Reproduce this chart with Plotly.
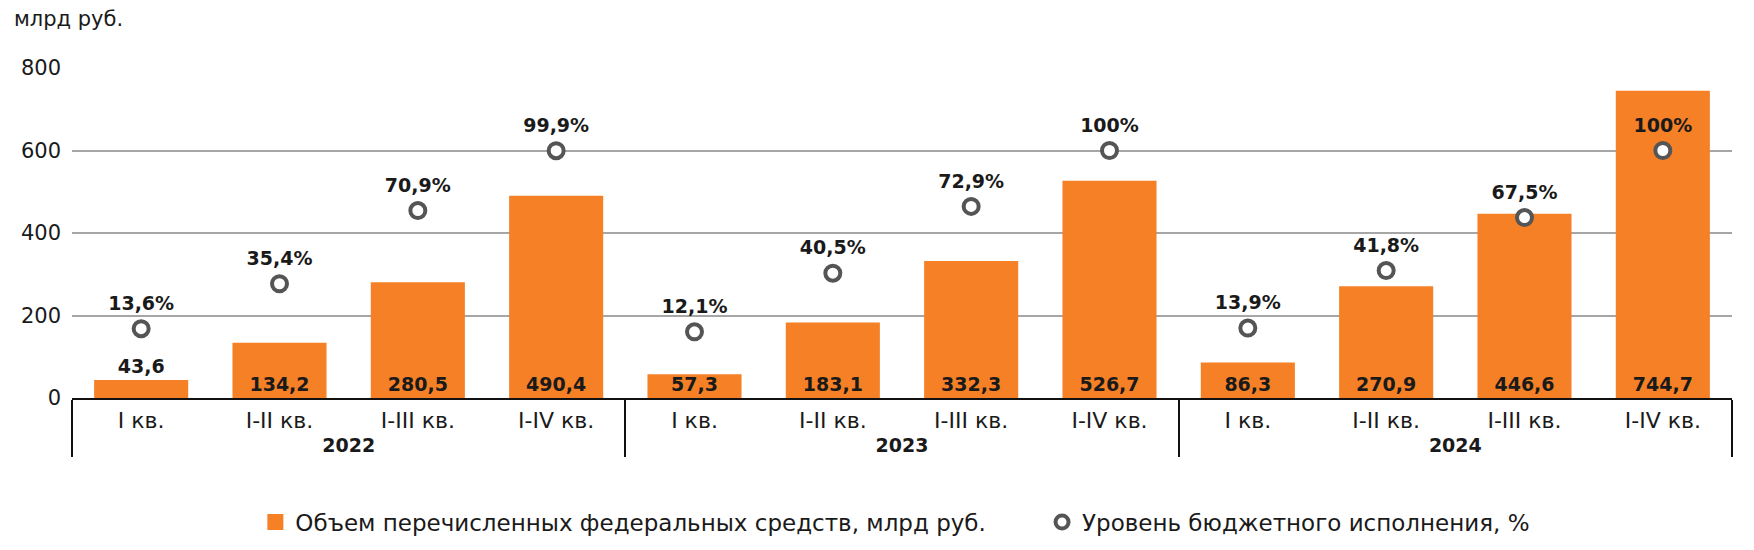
import plotly.graph_objects as go

years = ["2022", "2023", "2024"]
quarters = ["I кв.", "I-II кв.", "I-III кв.", "I-IV кв."]
volumes = [43.6, 134.2, 280.5, 490.4, 57.3, 183.1, 332.3, 526.7, 86.3, 270.9, 446.6, 744.7]
execution = [13.6, 35.4, 70.9, 99.9, 12.1, 40.5, 72.9, 100, 13.9, 41.8, 67.5, 100]

FONT = "DejaVu Sans"
ORANGE = "#F58026"
GRAY = "#555555"
INK = "#1a1a1a"


def ru(v, suffix=""):
    s = ("%g" % v).replace(".", ",")
    return s + suffix


# small base tick font; an invisible first line above each year label
# pushes the year row a bit lower
spacer = "<span style='color:rgba(0,0,0,0)'>.</span><br>"
x_outer = [f"{spacer}<b><span style='font-size:19px'>{y}</span></b>" for y in years for _ in quarters]
x_inner = [f"<span style='font-size:22px'>{q}</span>" for _ in years for q in quarters]
xcat = [x_outer, x_inner]

fig = go.Figure()

fig.add_trace(go.Bar(
    x=xcat,
    y=volumes,
    name="Объем перечисленных федеральных средств, млрд руб.",
    showlegend=False,
    marker=dict(color=ORANGE, line=dict(width=0)),
    width=0.68,
    text=[f"<b>{ru(v)}</b>" for v in volumes],
    textposition=["outside"] + ["inside"] * (len(volumes) - 1),
    insidetextanchor="start",
    constraintext="none",
    textangle=0,
    textfont=dict(family=FONT, size=19, color=INK),
    cliponaxis=False,
))

# percentage labels (larger invisible marker gives the text more lift)
fig.add_trace(go.Scatter(
    x=xcat, y=execution, yaxis="y2",
    mode="markers+text", showlegend=False, hoverinfo="skip",
    marker=dict(size=21, opacity=0),
    text=[f"<b>{ru(v, '%')}</b>" for v in execution],
    textposition="top center",
    textfont=dict(family=FONT, size=19, color=INK),
    cliponaxis=False,
))

fig.add_trace(go.Scatter(
    x=xcat, y=execution, yaxis="y2",
    mode="markers",
    name="Уровень бюджетного исполнения, %",
    showlegend=False,
    marker=dict(symbol="circle", size=15, color="white",
                line=dict(color=GRAY, width=4)),
    cliponaxis=False,
))

# legend entries
fig.add_trace(go.Scatter(
    x=[None], y=[None], mode="markers",
    name="Объем перечисленных федеральных средств, млрд руб." + "\u00a0" * 7,
    marker=dict(symbol="square", size=19, color=ORANGE),
))
fig.add_trace(go.Scatter(
    x=[None], y=[None], mode="markers",
    name="Уровень бюджетного исполнения, %",
    marker=dict(symbol="circle", size=13, color="white",
                line=dict(color=GRAY, width=4)),
))

fig.update_layout(
    width=1754, height=550, autosize=False,
    margin=dict(l=64, r=30, t=60, b=160, autoexpand=False),
    plot_bgcolor="white", paper_bgcolor="white",
    font=dict(family=FONT, size=22, color=INK),
    showlegend=True,
    legend=dict(
        orientation="h", x=0.496, xanchor="center",
        y=-0.376, yanchor="middle",
        font=dict(family=FONT, size=23, color=INK),
        itemwidth=30,
        traceorder="normal",
    ),
    xaxis=dict(
        type="multicategory",
        range=[-0.5, 11.5],
        showline=True, linecolor="#111111", linewidth=2,
        showdividers=True, dividercolor="#111111", dividerwidth=1.5,
        tickfont=dict(family=FONT, size=10, color=INK),
        tickangle=0,
        ticklabelstandoff=16,
        showgrid=False, ticks="",
    ),
    yaxis=dict(
        range=[0, 800], tickvals=[0, 200, 400, 600, 800],
        showgrid=True, gridcolor="#a6a6a6", gridwidth=1.5,
        zeroline=False, showline=False, ticks="",
        ticklabelstandoff=10,
        tickfont=dict(family=FONT, size=21, color=INK),
    ),
    yaxis2=dict(
        overlaying="y", range=[-20, 140], visible=False,
    ),
    annotations=[dict(
        text="млрд руб.", xref="paper", yref="paper",
        x=-0.036, y=1.15, xanchor="left", yanchor="middle",
        showarrow=False, font=dict(family=FONT, size=21, color=INK),
    )],
)

fig.write_html("out.html")
